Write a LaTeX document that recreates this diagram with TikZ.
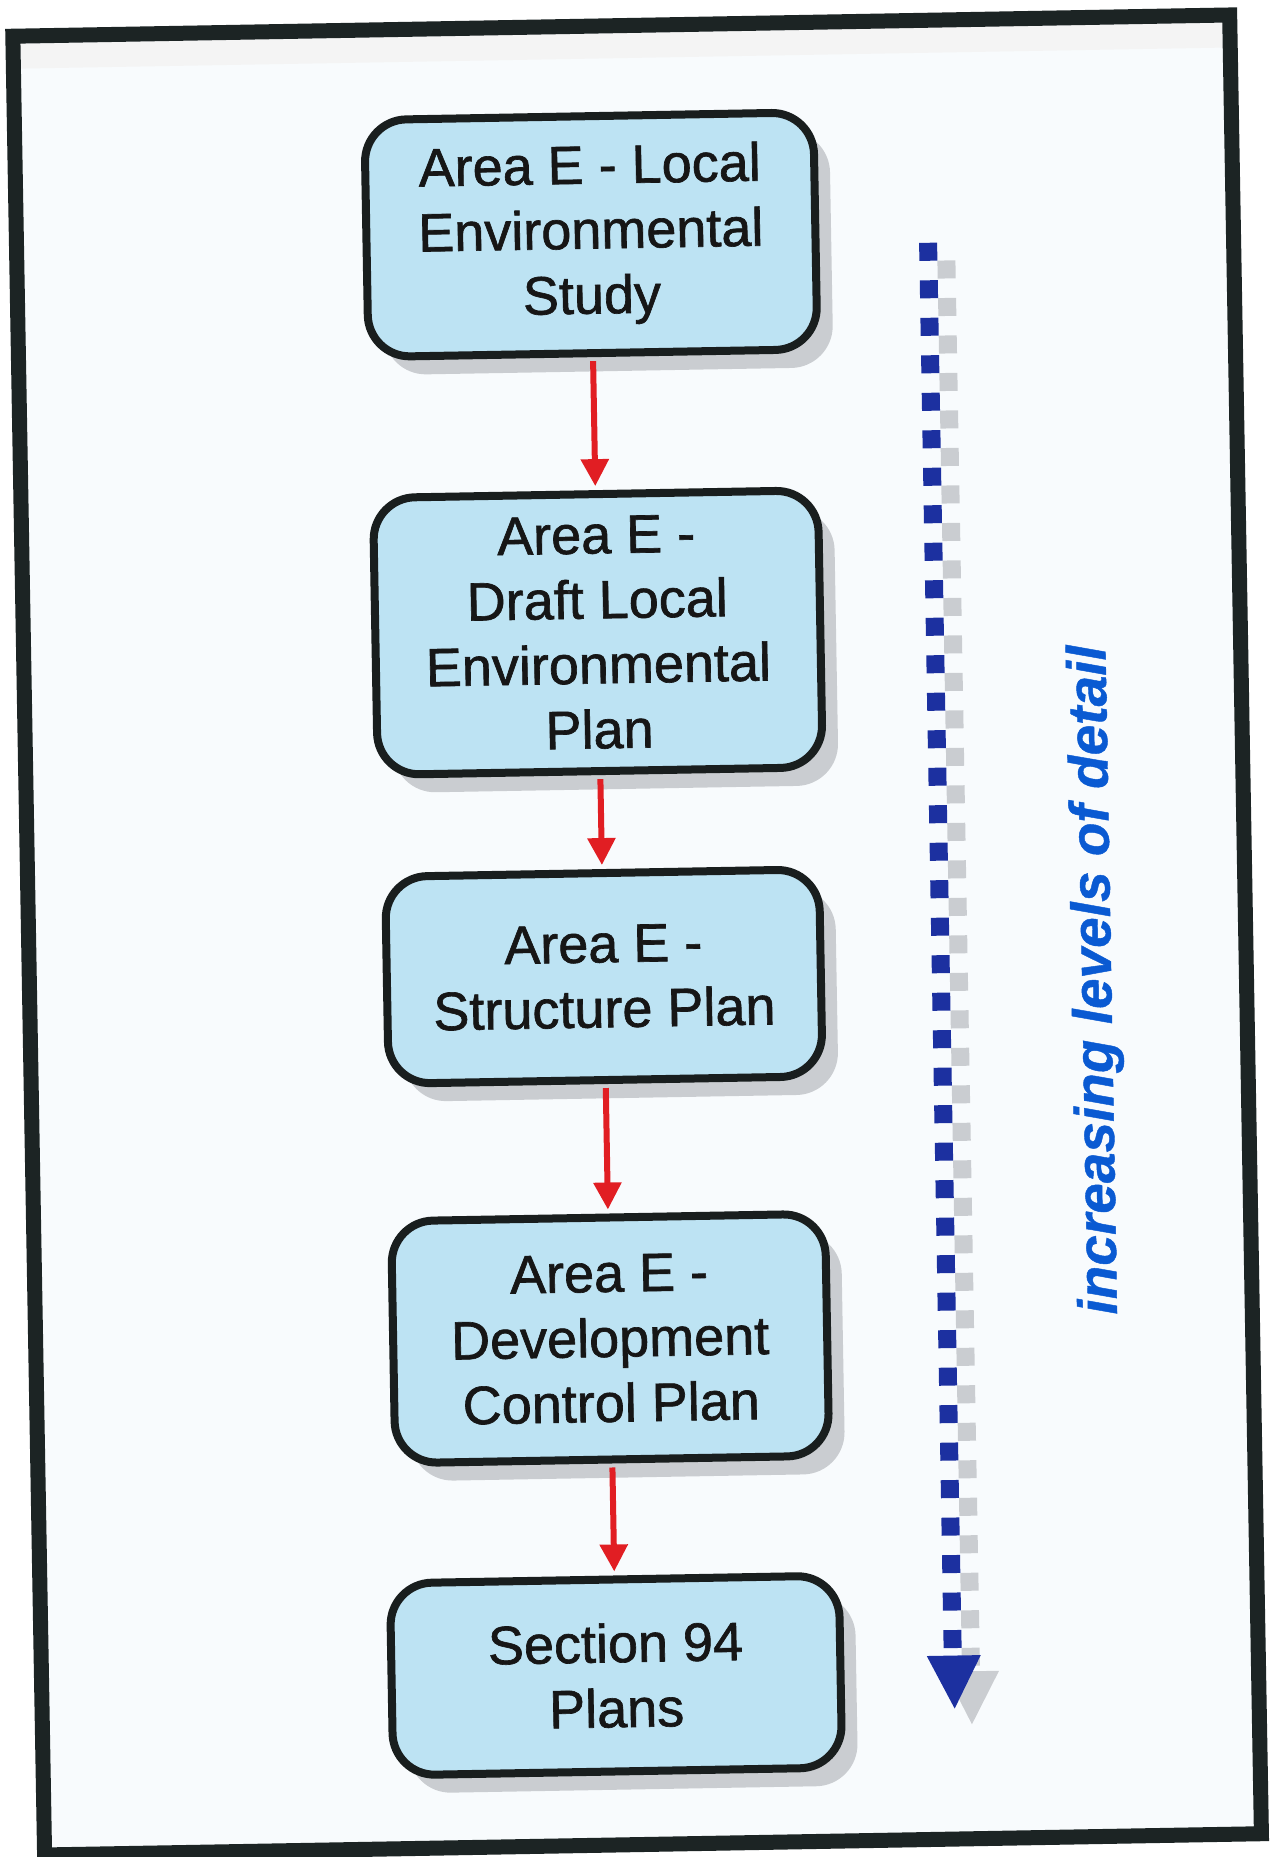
\documentclass[tikz,border=0pt]{standalone}
\usepackage{fontspec}
\setmainfont{Liberation Sans}
\newfontfamily\boxfont[FakeBold=1.2]{Liberation Sans}
\newfontfamily\labelfont[FakeBold=0.8]{Liberation Sans}
\usetikzlibrary{arrows.meta,shadows}
\definecolor{framecol}{RGB}{28,36,36}
\definecolor{boxfill}{RGB}{189,227,243}
\definecolor{boxline}{RGB}{25,30,30}
\definecolor{redarrow}{RGB}{225,30,35}
\definecolor{navy}{RGB}{28,48,160}
\definecolor{shadowgray}{RGB}{202,205,209}
\definecolor{textblue}{RGB}{10,90,210}
\definecolor{txt}{RGB}{22,22,22}
\definecolor{bgtint}{RGB}{248,251,253}
\begin{document}
\begin{tikzpicture}[x=1pt,y=-1pt,
  flowbox/.style={draw=boxline, line width=8pt, fill=boxfill, rounded corners=42pt,
    align=center, text=txt, font=\boxfont\fontsize{54}{65}\selectfont, inner sep=0pt,
    drop shadow={shadow xshift=16pt, shadow yshift=-18pt, fill=shadowgray, opacity=1}},
  flowarrow/.style={draw=redarrow, line width=6pt, -{Triangle[width=27pt,length=27pt]},
    shorten >=4pt, shorten <=4pt},
  detailline/.style={line width=18pt, dash pattern=on 18pt off 19.5pt},
]
\useasboundingbox (0,0) rectangle (1270,1857);
\fill[white] (0,0) rectangle (1270,1857);
\begin{scope}[rotate around={1:(635,928)}, transform shape]
  \fill[bgtint] (28,25) rectangle (1246,1845);
  \fill[gray!9] (36,33) rectangle (1238,58);
  \draw[framecol, line width=15pt] (28.5,25.5) rectangle (1245.5,1844.5);

  \node[flowbox, minimum width=449pt, minimum height=237pt] (b1) at (603,234)
    {Area E - Local\\Environmental\\Study};
  \node[flowbox, minimum width=445pt, minimum height=277pt] (b2) at (603,632)
    {Area E -\\Draft Local\\Environmental\\Plan};
  \node[flowbox, minimum width=434pt, minimum height=207pt] (b3) at (603,976)
    {Area E -\\Structure Plan};
  \node[flowbox, minimum width=434pt, minimum height=242pt] (b4) at (603,1338)
    {Area E -\\Development\\Control Plan};
  \node[flowbox, minimum width=449pt, minimum height=192pt] (b5) at (603,1675)
    {Section 94\\Plans};

  \draw[flowarrow] (b1.south) -- (b2.north);
  \draw[flowarrow] (b2.south) -- (b3.north);
  \draw[flowarrow] (b3.south) -- (b4.north);
  \draw[flowarrow] (b4.south) -- (b5.north);

  % increasing detail arrow
  \coordinate (dtop) at (940,248);
  \coordinate (dend) at (940,1656);
  \coordinate (dtip) at (941,1714);
  \draw[detailline, shadowgray] ([shift={(18,18)}]dtop) -- ([shift={(18,18)}]dend);
  \fill[shadowgray] ([shift={(-9,-37)}]dtip) -- ([shift={(45,-37)}]dtip) -- ([shift={(17,16)}]dtip) -- cycle;
  \draw[detailline, navy] (dtop) -- (dend);
  \fill[navy] ([shift={(-27,-53)}]dtip) -- ([shift={(27,-53)}]dtip) -- (dtip) -- cycle;

  \node[rotate=90, text=textblue, font=\labelfont\fontsize{55}{60}\selectfont\bfseries\itshape] (lbl)
    at (1096,988) {increasing levels of detail};
\end{scope}
\end{tikzpicture}
\end{document}
